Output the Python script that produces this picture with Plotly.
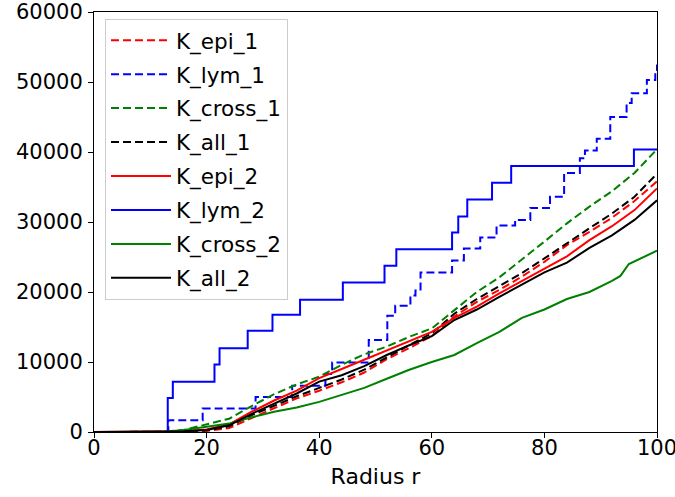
import plotly.graph_objects as go

# ---- data ----
r_smooth = [0, 12, 16, 20, 24, 28, 32, 36, 40, 44, 48, 52, 56, 60, 64, 68, 72, 76, 80, 84, 88, 92, 96, 100]

K_epi_1 = [0, 0, 0, 150, 550, 2000, 3400, 4800, 5900, 7100, 8500, 10400, 12000, 13700,
           16500, 18600, 20300, 22200, 24300, 26700, 28600, 30600, 33000, 35800]
K_all_1 = [0, 0, 50, 250, 800, 2400, 3800, 5100, 6300, 7500, 8900, 10700, 12400, 14100,
           16900, 19000, 20900, 22700, 24800, 27000, 29100, 31200, 33600, 36900]
K_cross_1 = [0, 0, 300, 1100, 1900, 3700, 5400, 6800, 7900, 9600, 11100, 12200, 13600, 14800,
             17400, 20000, 22100, 24600, 27200, 29800, 32200, 34400, 37000, 40400]
K_epi_2 = [0, 0, 100, 350, 1100, 2900, 4500, 5900, 7700, 9000, 10300, 11600, 13000, 14300,
           16300, 17900, 19800, 21600, 23300, 25100, 27400, 29400, 31700, 34800]
K_all_2 = [0, 0, 100, 300, 950, 2600, 4100, 5500, 7200, 8100, 9400, 11000, 12400, 13700,
           16000, 17500, 19300, 21000, 22800, 24200, 26300, 28100, 30300, 33100]

r_cross_2 = [0, 12, 16, 20, 24, 28, 32, 36, 40, 44, 48, 52, 56, 60, 64, 68, 72, 76, 80, 84,
             88, 92, 93.5, 95, 98, 100]
K_cross_2 = [0, 0, 300, 700, 1200, 2100, 2900, 3500, 4300, 5300, 6300, 7600, 8900, 10000,
             11000, 12700, 14300, 16300, 17500, 19000, 20000, 21600, 22300, 24000, 25100, 25900]

r_lym_1 = [0, 13.2, 19.3, 28.7, 35.2, 41.1, 42.3, 48.8, 52.1, 53.5, 56.2, 57.1, 58.0, 63.6,
           65.7, 68.6, 71.5, 74.8, 77.5, 81.0, 83.5, 86.3, 87.2, 89.3, 91.7, 94.6, 95.5, 98.2,
           99.7, 100]
K_lym_1 = [0, 1670, 3340, 5010, 6590, 8270, 9930, 13140, 16600, 18050, 19500, 20200, 22800,
           24500, 26200, 27800, 29500, 30300, 32000, 33600, 37000, 39100, 40200, 41900, 45000,
           47000, 48400, 50300, 51700, 52500]

r_lym_2 = [0, 13.1, 14.0, 21.4, 22.3, 27.3, 31.7, 36.6, 44.2, 51.6, 53.7, 63.6, 64.7, 66.3,
           70.7, 74.1, 95.9, 100]
K_lym_2 = [0, 4870, 7180, 9650, 11950, 14470, 16760, 18900, 21350, 23750, 26100, 28500, 30800,
           33200, 35600, 38000, 40350, 40350]

x_ticks = [0, 20, 40, 60, 80, 100]
y_ticks = [0, 10000, 20000, 30000, 40000, 50000, 60000]

RED, BLUE, GREEN, BLACK = "#ff0000", "#0000ff", "#008000", "#000000"
DASH = "8px,4px"
W = 2

series = [
    ("K_epi_1", r_smooth, K_epi_1, RED, DASH, "linear"),
    ("K_lym_1", r_lym_1, K_lym_1, BLUE, DASH, "hv"),
    ("K_cross_1", r_smooth, K_cross_1, GREEN, DASH, "linear"),
    ("K_all_1", r_smooth, K_all_1, BLACK, DASH, "linear"),
    ("K_epi_2", r_smooth, K_epi_2, RED, "solid", "linear"),
    ("K_lym_2", r_lym_2, K_lym_2, BLUE, "solid", "hv"),
    ("K_cross_2", r_cross_2, K_cross_2, GREEN, "solid", "linear"),
    ("K_all_2", r_smooth, K_all_2, BLACK, "solid", "linear"),
]

fig = go.Figure()
for i, (name, xs, ys, col, dash, shape) in enumerate(series):
    fig.add_trace(go.Scatter(
        x=xs, y=ys, mode="lines", name=name, legendgroup=f"g{i}",
        line=dict(color=col, width=W, dash=dash, shape=shape),
    ))

FONT = "DejaVu Sans"
fig.update_layout(
    width=675, height=497,
    margin=dict(l=94, r=18, t=12, b=65),
    paper_bgcolor="white", plot_bgcolor="white",
    font=dict(family=FONT, size=21, color="#000000"),
    showlegend=True,
    legend=dict(
        x=0.0195, y=0.984, xanchor="left", yanchor="top",
        bgcolor="rgba(255,255,255,0.8)", bordercolor="#cccccc", borderwidth=1,
        font=dict(family=FONT, size=21.5, color="#000000"),
        tracegroupgap=3, itemwidth=60,
    ),
    xaxis=dict(
        range=[0, 100], tickvals=x_ticks, ticktext=[str(v) for v in x_ticks],
        showgrid=False, zeroline=False, showline=True, linecolor="black", linewidth=1,
        mirror=True, ticks="outside", ticklen=5, tickcolor="black",
        automargin=False, ticklabeloverflow="allow", ticklabelstandoff=-8,
        title=dict(text="Radius r", font=dict(family=FONT, size=22), standoff=9),
    ),
    yaxis=dict(
        range=[0, 60000], tickvals=y_ticks, ticktext=[str(v) for v in y_ticks],
        showgrid=False, zeroline=False, showline=True, linecolor="black", linewidth=1,
        mirror=True, ticks="outside", ticklen=5, tickcolor="black",
        automargin=False, ticklabeloverflow="allow", ticklabelstandoff=1,
    ),
)

# remove the browser's default 8px page margin so the figure fills the window exactly
fig.write_html("out.html", config={"displayModeBar": False},
               post_script="document.body.style.margin='0px';")
